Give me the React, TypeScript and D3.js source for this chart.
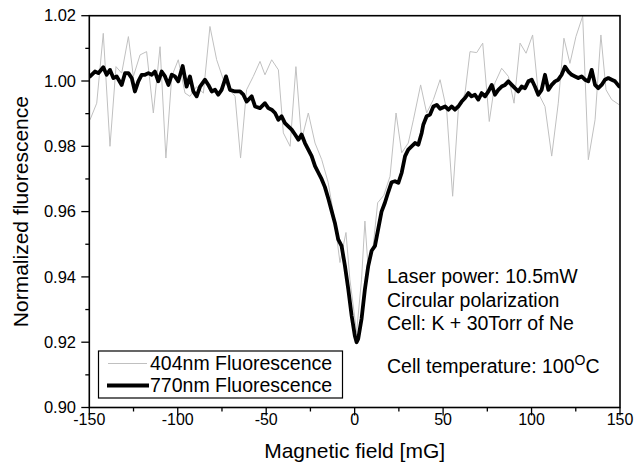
import React from "react";
import * as d3 from "d3";

// 404nm Fluorescence (gray, thin)
const grayX = [-149.6,-145.8,-142.1,-138.3,-134.9,-131.7,-127.9,-125.1,-121.3,-117.6,-113.8,-110.0,-106.7,-103.4,-99.7,-95.9,-93.1,-89.3,-85.5,-81.8,-78.0,-74.2,-70.5,-67.6,-64.5,-61.1,-57.3,-53.5,-50.7,-46.9,-43.1,-40.3,-36.5,-33.2,-30.0,-26.2,-22.4,-18.6,-15.0,-11.5,-8.3,-4.9,-2.7,1.1,3.9,5.8,7.7,10.5,13.0,16.5,20.0,23.4,26.6,30.3,33.2,37.3,40.7,44.5,48.3,52.0,55.4,58.6,62.4,65.2,69.0,72.4,76.1,79.3,83.1,86.9,90.1,93.5,96.9,100.6,103.8,107.6,111.4,115.1,118.3,121.7,125.1,128.9,132.1,135.9,139.2,142.1,145.3,149.6];
const grayY = [0.9881,0.9932,1.0146,0.9800,1.0044,1.0024,1.0136,1.0014,1.0080,1.0090,0.9902,1.0105,0.9764,1.0014,1.0065,0.9963,0.9953,0.9983,0.9963,1.0167,1.0065,1.0004,0.9973,0.9953,0.9764,0.9973,1.0014,1.0060,1.0019,1.0065,1.0034,0.9841,0.9800,1.0044,0.9820,0.9902,0.9810,0.9759,0.9690,0.9580,0.9444,0.9536,0.9393,0.9230,0.9393,0.9571,0.9420,0.9495,0.9627,0.9650,0.9708,0.9902,0.9780,0.9810,0.9881,0.9988,0.9902,0.9943,1.0004,0.9912,0.9647,0.9912,0.9963,1.0090,1.0087,1.0116,0.9876,0.9994,1.0039,1.0014,0.9932,1.0116,1.0085,1.0141,0.9963,0.9922,0.9770,0.9932,1.0131,1.0054,1.0136,1.0199,0.9759,0.9881,1.0141,0.9973,0.9943,0.9927];

// 770nm Fluorescence (black, thick)
const blackX = [-149.6,-146.8,-144.9,-142.1,-140.2,-138.3,-136.4,-134.5,-131.7,-129.8,-127.9,-126.0,-124.2,-122.3,-120.4,-118.5,-116.6,-114.7,-112.9,-111.0,-109.1,-107.2,-105.3,-103.4,-101.6,-99.7,-97.2,-95.0,-93.1,-91.2,-89.3,-87.4,-84.6,-82.7,-80.8,-78.9,-77.1,-75.2,-72.7,-70.5,-67.6,-64.8,-62.9,-61.1,-58.2,-56.3,-53.5,-50.7,-48.8,-46.9,-45.0,-43.1,-41.3,-39.4,-37.5,-35.6,-33.7,-31.8,-30.0,-28.1,-26.2,-24.3,-22.4,-20.5,-18.7,-16.8,-14.9,-13.0,-11.2,-9.3,-7.4,-5.5,-3.6,-1.7,0.1,1.1,2.0,3.9,5.8,7.7,9.6,11.5,13.3,15.2,17.1,19.0,20.9,22.8,24.7,26.6,28.5,30.3,32.2,34.1,36.0,37.9,38.8,40.7,42.6,44.5,46.4,48.3,51.1,53.0,54.8,56.7,58.6,60.5,62.4,64.3,66.1,68.0,69.9,71.8,73.7,75.6,77.5,79.3,81.2,83.1,85.0,86.9,88.8,90.6,92.5,94.4,96.3,98.2,100.1,101.9,103.8,105.7,107.6,109.5,111.4,113.3,115.1,117.0,118.9,120.8,122.7,124.6,126.4,128.3,130.2,132.1,134.0,135.9,137.7,139.6,141.5,143.4,145.3,147.2,149.6];
const blackY = [1.0014,1.0029,1.0024,1.0042,1.0019,1.0034,1.0009,1.0014,0.9988,1.0024,1.0024,1.0009,0.9968,0.9999,1.0019,1.0019,1.0024,1.0019,1.0029,0.9999,1.0029,1.0014,0.9988,1.0019,1.0014,0.9999,1.0046,0.9983,1.0014,0.9968,0.9953,0.9983,1.0004,0.9988,0.9968,0.9973,0.9958,0.9973,1.0014,0.9973,0.9968,0.9968,0.9958,0.9937,0.9953,0.9922,0.9917,0.9932,0.9917,0.9912,0.9902,0.9881,0.9892,0.9871,0.9861,0.9851,0.9836,0.9820,0.9836,0.9810,0.9790,0.9770,0.9739,0.9719,0.9700,0.9675,0.9640,0.9602,0.9566,0.9515,0.9495,0.9434,0.9362,0.9281,0.9220,0.9200,0.9210,0.9271,0.9362,0.9434,0.9480,0.9495,0.9546,0.9600,0.9627,0.9660,0.9690,0.9693,0.9688,0.9719,0.9770,0.9790,0.9800,0.9810,0.9805,0.9841,0.9866,0.9892,0.9897,0.9922,0.9927,0.9915,0.9922,0.9912,0.9922,0.9912,0.9922,0.9937,0.9948,0.9963,0.9953,0.9958,0.9943,0.9963,0.9953,0.9968,0.9988,0.9958,0.9973,0.9983,0.9988,0.9999,0.9988,0.9978,0.9968,0.9983,0.9978,0.9999,1.0004,0.9983,0.9958,0.9973,1.0019,0.9973,0.9988,0.9999,1.0004,1.0019,1.0044,1.0029,1.0019,1.0014,1.0009,1.0014,1.0004,0.9999,1.0034,0.9988,0.9978,0.9988,1.0004,1.0009,1.0004,0.9999,0.9983];

const xTicks = [-150, -100, -50, 0, 50, 100, 150];
const xMinorTicks = [-125, -75, -25, 25, 75, 125];
const yTicks = [0.90, 0.92, 0.94, 0.96, 0.98, 1.00, 1.02];
const yMinorTicks = [0.91, 0.93, 0.95, 0.97, 0.99, 1.01];
const legendLabels = ["404nm Fluorescence", "770nm Fluorescence"];
const notes = ["Laser power: 10.5mW", "Circular polarization", "Cell: K + 30Torr of Ne"];

const FONT = "'Liberation Sans', Arial, Helvetica, sans-serif";

export default function App() {
  const W = 634, H = 467;
  const L = 89.3, R = 620, T = 15.7, B = 407.5;
  const x = d3.scaleLinear().domain([-150, 150]).range([L, R]);
  const y = d3.scaleLinear().domain([0.90, 1.02]).range([B, T]);

  const gray = grayX.map((v, i) => [v, grayY[i]] as [number, number]);
  const black = blackX.map((v, i) => [v, blackY[i]] as [number, number]);
  const line = d3.line<[number, number]>().x(d => x(d[0])).y(d => y(d[1]));

  return (
    <svg width={W} height={H} style={{ position: "absolute", left: 0, top: 0, background: "#fff" }} fontFamily={FONT}>
      <defs>
        <clipPath id="plot"><rect x={L} y={T} width={R - L} height={B - T} /></clipPath>
      </defs>
      <g clipPath="url(#plot)">
        <path d={line(gray) || ""} fill="none" stroke="#c0c0c0" strokeWidth={1} />
        <path d={line(black) || ""} fill="none" stroke="#000" strokeWidth={3.8} strokeLinejoin="round" strokeLinecap="round" />
      </g>
      <rect x={L} y={T} width={R - L} height={B - T} fill="none" stroke="#000" strokeWidth={1.6} />
      {xTicks.map(t => (
        <g key={"xt" + t}>
          <line x1={x(t)} x2={x(t)} y1={B} y2={B + 8} stroke="#000" strokeWidth={1.3} />
          <text x={x(t)} y={425} fontSize={16} textAnchor="middle">{t}</text>
        </g>
      ))}
      {xMinorTicks.map(t => (
        <line key={"xm" + t} x1={x(t)} x2={x(t)} y1={B} y2={B + 4} stroke="#000" strokeWidth={1.3} />
      ))}
      {yTicks.map(t => (
        <g key={"yt" + t}>
          <line x1={L - 8} x2={L} y1={y(t)} y2={y(t)} stroke="#000" strokeWidth={1.3} />
          <text x={76} y={y(t)} dy="0.35em" fontSize={16.5} textAnchor="end">{t.toFixed(2)}</text>
        </g>
      ))}
      {yMinorTicks.map(t => (
        <line key={"ym" + t} x1={L - 4} x2={L} y1={y(t)} y2={y(t)} stroke="#000" strokeWidth={1.3} />
      ))}
      <text x={(L + R) / 2} y={458} fontSize={21} textAnchor="middle">Magnetic field [mG]</text>
      <text transform={`translate(28,${(T + B) / 2}) rotate(-90)`} fontSize={21} textAnchor="middle">Normalized fluorescence</text>

      <rect x={98.5} y={351} width={244} height={47} fill="#fff" stroke="#000" strokeWidth={1.2} />
      <line x1={108} x2={147} y1={363.5} y2={363.5} stroke="#c0c0c0" strokeWidth={1} />
      <line x1={107} x2={149} y1={385.5} y2={385.5} stroke="#000" strokeWidth={3.8} />
      <text x={150} y={370} fontSize={19.5}>{legendLabels[0]}</text>
      <text x={150} y={392} fontSize={19.5}>{legendLabels[1]}</text>

      {notes.map((n, i) => (
        <text key={n} x={387} y={283 + i * 23.5} fontSize={19.5}>{n}</text>
      ))}
      <text x={387} y={373} fontSize={19.5}>
        Cell temperature: 100<tspan dy={-8} fontSize={14}>O</tspan><tspan dy={8}>C</tspan>
      </text>
    </svg>
  );
}
